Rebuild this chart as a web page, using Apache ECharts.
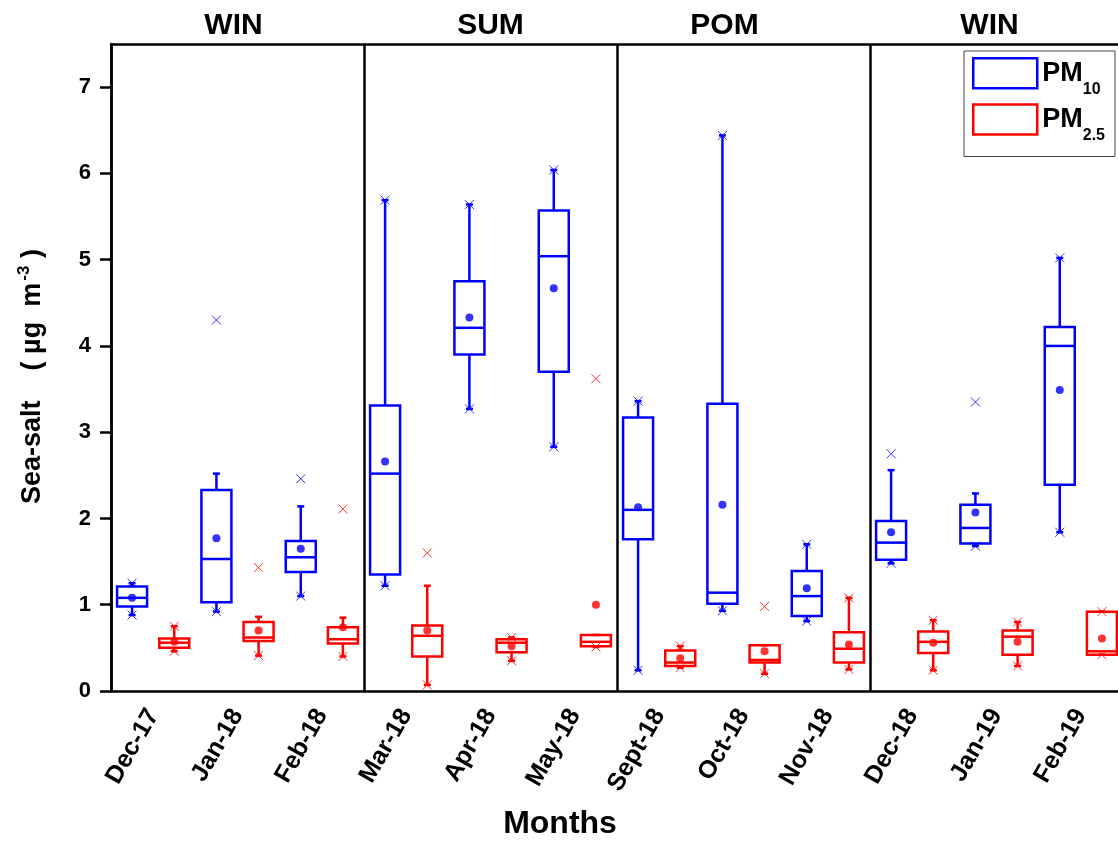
<!DOCTYPE html>
<html>
<head>
<meta charset="utf-8">
<title>Sea-salt PM10 / PM2.5</title>
<script src="https://cdn.jsdelivr.net/npm/echarts@6/dist/echarts.min.js"></script>
<style>
  html, body { margin: 0; padding: 0; background: #fff; }
  #chart { width: 1118px; height: 843px; }
</style>
</head>
<body>
<div id="chart"></div>
<script>
// 月份与季节
const months = ['Dec-17', 'Jan-18', 'Feb-18', 'Mar-18', 'Apr-18', 'May-18',
  'Sept-18', 'Oct-18', 'Nov-18', 'Dec-18', 'Jan-19', 'Feb-19']
const seasons = ['WIN', 'SUM', 'POM', 'WIN']
const yTicks = [0, 1, 2, 3, 4, 5, 6, 7]

// PM10 箱线数据
const pm10Low = [0.88, 0.92, 1.10, 1.22, 3.27, 2.83, 0.24, 0.93, 0.81, 1.48, 1.68, 1.84]
const pm10Q1 = [0.98, 1.03, 1.38, 1.35, 3.90, 3.70, 1.76, 1.01, 0.87, 1.52, 1.71, 2.39]
const pm10Median = [1.08, 1.53, 1.55, 2.52, 4.21, 5.04, 2.10, 1.14, 1.10, 1.72, 1.89, 4.00]
const pm10Q3 = [1.21, 2.33, 1.74, 3.31, 4.75, 5.57, 3.17, 3.33, 1.39, 1.97, 2.16, 4.22]
const pm10High = [1.25, 2.52, 2.14, 5.69, 5.64, 6.04, 3.36, 6.44, 1.70, 2.56, 2.29, 5.02]
const pm10Mean = [1.08, 1.77, 1.65, 2.66, 4.33, 4.67, 2.13, 2.16, 1.19, 1.84, 2.07, 3.49]
const pm10Min = [0.88, 0.92, 1.10, 1.22, 3.27, 2.83, 0.24, 0.93, 0.81, 1.48, 1.68, 1.84]
const pm10Max = [1.25, 4.30, 2.46, 5.69, 5.64, 6.04, 3.36, 6.44, 1.70, 2.75, 3.35, 5.02]

// PM2.5 箱线数据
const pm25Low = [0.46, 0.41, 0.40, 0.07, 0.35, 0.51, 0.27, 0.20, 0.25, 0.24, 0.29, 0.42]
const pm25Q1 = [0.50, 0.58, 0.55, 0.40, 0.45, 0.52, 0.29, 0.33, 0.33, 0.44, 0.42, 0.42]
const pm25Median = [0.56, 0.62, 0.60, 0.64, 0.56, 0.57, 0.33, 0.36, 0.49, 0.57, 0.63, 0.46]
const pm25Q3 = [0.61, 0.80, 0.74, 0.76, 0.60, 0.65, 0.47, 0.53, 0.68, 0.69, 0.70, 0.92]
const pm25High = [0.75, 0.86, 0.85, 1.22, 0.62, 0.65, 0.52, 0.53, 1.08, 0.82, 0.80, 0.92]
const pm25Mean = [0.57, 0.70, 0.74, 0.70, 0.52, 1.00, 0.38, 0.46, 0.54, 0.56, 0.57, 0.61]
const pm25Min = [0.46, 0.41, 0.40, 0.07, 0.35, 0.51, 0.27, 0.20, 0.25, 0.24, 0.29, 0.42]
const pm25Max = [0.75, 1.43, 2.11, 1.60, 0.62, 3.62, 0.52, 0.98, 1.08, 0.82, 0.80, 0.92]

const BLUE = '#0000ff'
const RED = '#ff0000'
const FONT = '"Liberation Sans", Arial, sans-serif'
// 季节标题向左微移（右侧留白，像素）
const seasonShift = [8, 0, 38, 14]

// 每个月两个位置：PM10 在左，PM2.5 在右
const slots = []
months.forEach(m => { slots.push(m + ' PM10'); slots.push(m + ' PM2.5') })

const boxData = (offset, low, q1, med, q3, high) =>
  months.map((_, i) => [2 * i + offset, low[i], q1[i], med[i], q3[i], high[i]])
const pointData = (offset, values) => values.map((v, i) => [2 * i + offset, v])

const renderBox = (params, api) => {
  const x = api.value(0)
  const c = v => api.coord([x, v])
  const lo = c(api.value(1))
  const q1 = c(api.value(2))
  const med = c(api.value(3))
  const q3 = c(api.value(4))
  const hi = c(api.value(5))
  const half = 15
  const cap = 3.5
  const style = { stroke: api.visual('color'), lineWidth: 2.5, fill: 'none' }
  const line = (x1, y1, x2, y2) => ({ type: 'line', shape: { x1, y1, x2, y2 }, style })
  return {
    type: 'group',
    children: [
      line(lo[0], lo[1], q1[0], q1[1]),
      line(q3[0], q3[1], hi[0], hi[1]),
      line(lo[0] - cap, lo[1], lo[0] + cap, lo[1]),
      line(hi[0] - cap, hi[1], hi[0] + cap, hi[1]),
      { type: 'rect', shape: { x: q3[0] - half, y: q3[1], width: half * 2, height: q1[1] - q3[1] }, style },
      line(med[0] - half, med[1], med[0] + half, med[1])
    ]
  }
}

const CROSS = 'path://M0,0L10,10M10,0L0,10'

const crossSeries = (offset, values, color) => ({
  type: 'scatter',
  xAxisIndex: 0,
  symbol: CROSS,
  symbolSize: 9,
  itemStyle: { color: 'none', borderColor: color, borderWidth: 1 },
  data: pointData(offset, values),
  z: 5
})

const meanSeries = (offset, values, color) => ({
  type: 'scatter',
  xAxisIndex: 0,
  symbol: 'circle',
  symbolSize: 8,
  itemStyle: { color },
  data: pointData(offset, values),
  z: 6
})

const legendLabel = name => name === 'PM10' ? '{a|PM}{b|10}' : '{a|PM}{b|2.5}'

const chart = echarts.init(document.getElementById('chart'))

const option = {
  animation: false,
  backgroundColor: '#fff',
  textStyle: { fontFamily: FONT },
  grid: { left: 111, top: 44, right: -5, bottom: 152, outerBoundsMode: 'none' },
  legend: {
    orient: 'vertical',
    left: 964,
    top: 51,
    padding: [6, 10, 13, 8],
    itemWidth: 64,
    itemHeight: 30,
    itemGap: 6,
    borderColor: '#444',
    borderWidth: 1,
    backgroundColor: '#fff',
    data: [
      { name: 'PM10', icon: 'rect', itemStyle: { color: '#fff', borderColor: BLUE, borderWidth: 2.5 } },
      { name: 'PM2.5', icon: 'rect', itemStyle: { color: '#fff', borderColor: RED, borderWidth: 2.5 } }
    ],
    formatter: legendLabel,
    textStyle: {
      rich: {
        a: { fontSize: 27, lineHeight: 30, fontWeight: 'bold', color: '#000', fontFamily: FONT },
        b: { fontSize: 16, lineHeight: 16, fontWeight: 'bold', color: '#000', fontFamily: FONT, padding: [16, 0, -16, 0] }
      }
    }
  },
  xAxis: [
    {
      type: 'category',
      data: slots,
      position: 'bottom',
      show: false
    },
    {
      type: 'category',
      data: months,
      position: 'bottom',
      name: 'Months',
      nameLocation: 'middle',
      nameGap: 117,
      nameTextStyle: { fontSize: 32, fontWeight: 'bold', color: '#000', fontFamily: FONT, padding: [0, 114, 0, 0] },
      axisLine: { lineStyle: { color: '#000', width: 2.5 } },
      axisTick: { alignWithLabel: true, length: 12, lineStyle: { color: '#000', width: 2.5 } },
      axisLabel: {
        rotate: 60,
        margin: 20,
        fontSize: 25,
        fontWeight: 'bold',
        color: '#000',
        fontFamily: FONT,
        interval: 0
      }
    },
    {
      type: 'category',
      data: seasons.map((s, i) => ({ value: s, textStyle: { padding: [0, seasonShift[i], 0, 0] } })),
      position: 'top',
      axisLine: { lineStyle: { color: '#000', width: 2.5 } },
      axisTick: { show: false },
      axisLabel: { margin: 3, fontSize: 30, fontWeight: 'bold', color: '#000', fontFamily: FONT, interval: 0 },
      splitLine: { show: true, interval: 0, lineStyle: { color: '#000', width: 2.5 } }
    }
  ],
  yAxis: {
    type: 'value',
    min: 0,
    max: 7.5,
    interval: 1,
    name: '{a|Sea-salt    ( µg  m}{c| }{b|-3}{a| )}',
    nameLocation: 'middle',
    nameGap: 62,
    nameTextStyle: {
      padding: [0, 18, 0, 0],
      rich: {
        a: { fontSize: 27, fontWeight: 'bold', color: '#000', fontFamily: FONT },
        b: { fontSize: 17, fontWeight: 'bold', color: '#000', fontFamily: FONT, padding: [0, 0, 16, 0] },
        c: { fontSize: 8 }
      }
    },
    axisLine: { show: true, lineStyle: { color: '#000', width: 2.5 } },
    axisTick: { show: true, length: 11, customValues: yTicks, lineStyle: { color: '#000', width: 2.5 } },
    axisLabel: { customValues: yTicks, margin: 20, fontSize: 22, fontWeight: 'bold', color: '#000', fontFamily: FONT },
    splitLine: { show: false }
  },
  series: [
    {
      name: 'PM10',
      type: 'custom',
      xAxisIndex: 0,
      renderItem: renderBox,
      itemStyle: { color: BLUE },
      encode: { x: 0, y: [1, 2, 3, 4, 5] },
      data: boxData(0, pm10Low, pm10Q1, pm10Median, pm10Q3, pm10High),
      z: 4
    },
    {
      name: 'PM2.5',
      type: 'custom',
      xAxisIndex: 0,
      renderItem: renderBox,
      itemStyle: { color: RED },
      encode: { x: 0, y: [1, 2, 3, 4, 5] },
      data: boxData(1, pm25Low, pm25Q1, pm25Median, pm25Q3, pm25High),
      z: 4
    },
    meanSeries(0, pm10Mean, BLUE),
    meanSeries(1, pm25Mean, RED),
    crossSeries(0, pm10Min, BLUE),
    crossSeries(0, pm10Max, BLUE),
    crossSeries(1, pm25Min, RED),
    crossSeries(1, pm25Max, RED)
  ]
}

chart.setOption(option)
</script>
</body>
</html>
